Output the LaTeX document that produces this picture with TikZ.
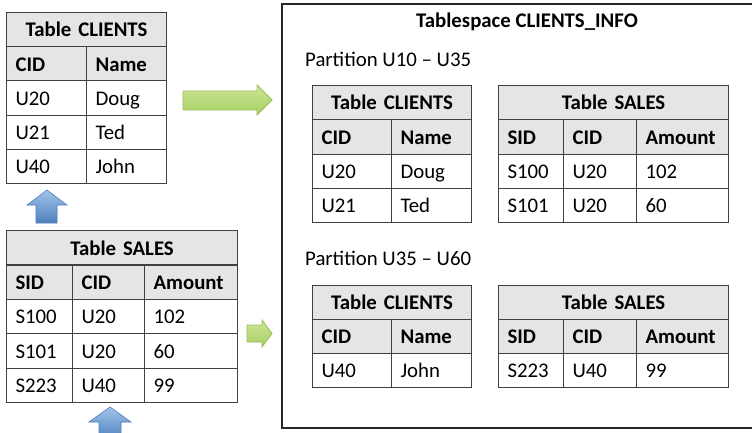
\documentclass[tikz,border=0pt]{standalone}
\usepackage{fontspec}
\setmainfont{Carlito}
\newcommand\fs{\fontsize{20.8}{24}\selectfont}
\definecolor{gfill1}{RGB}{205,230,150}
\definecolor{gfill2}{RGB}{236,247,214}
\definecolor{gfill3}{RGB}{168,208,100}
\definecolor{gline}{RGB}{150,190,85}
\definecolor{bfill1}{RGB}{160,196,235}
\definecolor{bfill2}{RGB}{78,128,190}
\definecolor{bline}{RGB}{80,125,185}
\newcommand\tcell[7]{%
  \pgfmathsetmacro\tcw{#5-18}%
  \node[#1, minimum width=#5pt, minimum height=#6pt, text width=\tcw pt, anchor=north west] (#2) at (#3,#4) {#7};}
\begin{document}
\begin{tikzpicture}[x=1pt,y=-1pt,
  cellbox/.style={draw=black!75, line width=1.1pt, inner xsep=9pt, inner ysep=0pt,
    text height=14.5pt, text depth=0pt, align=left, font=\fs},
  headbox/.style={cellbox, fill=black!10, font=\fs\bfseries},
  titlebox/.style={headbox, align=center},
  garrow/.style={draw=gline, line width=0.8pt, top color=gfill1, middle color=gfill2, bottom color=gfill3},
  barrow/.style={draw=bline, line width=0.6pt, top color=bfill1, bottom color=bfill2},
  label/.style={font=\fs, inner sep=0pt}]
\useasboundingbox (0,0) rectangle (752,433);
% frame
\draw[line width=2pt, black!85] (282,4) rectangle (775,428);
\node[label, font=\fs\bfseries, anchor=base] (title) at (527,28) {Tablespace CLIENTS\_INFO};
\node[label, anchor=base west] (p1) at (305,66.5) {Partition U10 – U35};
\node[label, anchor=base west] (p2) at (305,265) {Partition U35 – U60};
% top-left CLIENTS
\tcell{titlebox}{a0}{6}{12}{160}{34.2}{Table CLIENTS}
\tcell{headbox}{a1}{6}{46.2}{80}{34.2}{CID}
\tcell{headbox}{a2}{86}{46.2}{80}{34.2}{Name}
\tcell{cellbox}{a3}{6}{80.4}{80}{34.2}{U20}
\tcell{cellbox}{a4}{86}{80.4}{80}{34.2}{Doug}
\tcell{cellbox}{a5}{6}{114.6}{80}{34.2}{U21}
\tcell{cellbox}{a6}{86}{114.6}{80}{34.2}{Ted}
\tcell{cellbox}{a7}{6}{148.8}{80}{34.2}{U40}
\tcell{cellbox}{a8}{86}{148.8}{80}{34.2}{John}
% left SALES
\tcell{titlebox}{b0}{6}{230}{231}{34.4}{Table SALES}
\tcell{headbox}{b1}{6}{264.4}{66}{34.4}{SID}
\tcell{headbox}{b2}{72}{264.4}{72}{34.4}{CID}
\tcell{headbox}{b3}{144}{264.4}{93}{34.4}{Amount}
\tcell{cellbox}{b4}{6}{298.8}{66}{34.4}{S100}
\tcell{cellbox}{b5}{72}{298.8}{72}{34.4}{U20}
\tcell{cellbox}{b6}{144}{298.8}{93}{34.4}{102}
\tcell{cellbox}{b7}{6}{333.2}{66}{34.4}{S101}
\tcell{cellbox}{b8}{72}{333.2}{72}{34.4}{U20}
\tcell{cellbox}{b9}{144}{333.2}{93}{34.4}{60}
\tcell{cellbox}{b10}{6}{367.6}{66}{34.4}{S223}
\tcell{cellbox}{b11}{72}{367.6}{72}{34.4}{U40}
\tcell{cellbox}{b12}{144}{367.6}{93}{34.4}{99}
% partition 1 CLIENTS
\tcell{titlebox}{c0}{312}{85}{159}{34.25}{Table CLIENTS}
\tcell{headbox}{c1}{312}{119.25}{79}{34.25}{CID}
\tcell{headbox}{c2}{391}{119.25}{80}{34.25}{Name}
\tcell{cellbox}{c3}{312}{153.5}{79}{34.25}{U20}
\tcell{cellbox}{c4}{391}{153.5}{80}{34.25}{Doug}
\tcell{cellbox}{c5}{312}{187.75}{79}{34.25}{U21}
\tcell{cellbox}{c6}{391}{187.75}{80}{34.25}{Ted}
% partition 1 SALES
\tcell{titlebox}{d0}{498}{85}{230}{34.25}{Table SALES}
\tcell{headbox}{d1}{498}{119.25}{65}{34.25}{SID}
\tcell{headbox}{d2}{563}{119.25}{73}{34.25}{CID}
\tcell{headbox}{d3}{636}{119.25}{92}{34.25}{Amount}
\tcell{cellbox}{d4}{498}{153.5}{65}{34.25}{S100}
\tcell{cellbox}{d5}{563}{153.5}{73}{34.25}{U20}
\tcell{cellbox}{d6}{636}{153.5}{92}{34.25}{102}
\tcell{cellbox}{d7}{498}{187.75}{65}{34.25}{S101}
\tcell{cellbox}{d8}{563}{187.75}{73}{34.25}{U20}
\tcell{cellbox}{d9}{636}{187.75}{92}{34.25}{60}
% partition 2 CLIENTS
\tcell{titlebox}{e0}{312}{285}{159}{34}{Table CLIENTS}
\tcell{headbox}{e1}{312}{319}{79}{34}{CID}
\tcell{headbox}{e2}{391}{319}{80}{34}{Name}
\tcell{cellbox}{e3}{312}{353}{79}{34}{U40}
\tcell{cellbox}{e4}{391}{353}{80}{34}{John}
% partition 2 SALES
\tcell{titlebox}{f0}{498}{285}{230}{34}{Table SALES}
\tcell{headbox}{f1}{498}{319}{65}{34}{SID}
\tcell{headbox}{f2}{563}{319}{73}{34}{CID}
\tcell{headbox}{f3}{636}{319}{92}{34}{Amount}
\tcell{cellbox}{f4}{498}{353}{65}{34}{S223}
\tcell{cellbox}{f5}{563}{353}{73}{34}{U40}
\tcell{cellbox}{f6}{636}{353}{92}{34}{99}
% arrows
\path[garrow] (183,91) -- (257,91) -- (257,85) -- (272,100) -- (257,115) -- (257,110) -- (183,110) -- cycle;
\path[garrow] (247,325) -- (262,325) -- (262,320) -- (272,333.5) -- (262,347) -- (262,342) -- (247,342) -- cycle;
\path[barrow] (47,190) -- (67,205) -- (57,205) -- (57,223) -- (36,223) -- (36,205) -- (27,205) -- cycle;
\path[barrow] (110,407) -- (131,422) -- (121,422) -- (121,440) -- (99,440) -- (99,422) -- (89,422) -- cycle;
\end{tikzpicture}
\end{document}
